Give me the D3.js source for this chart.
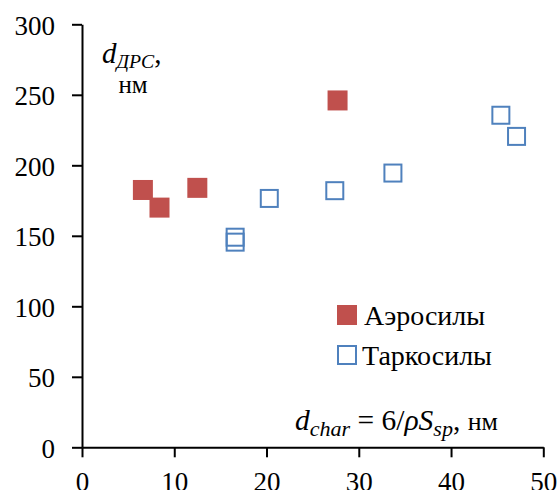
<!DOCTYPE html>
<html>
<head>
<meta charset="utf-8">
<script src="https://cdn.jsdelivr.net/npm/d3@7"></script>
<style>
html,body{margin:0;padding:0;background:#fff;}
svg text{font-family:"Liberation Serif","Times New Roman","DejaVu Serif",serif;fill:#000;}
</style>
</head>
<body>
<div id="chart"></div>
<script>
// Data
const aerosilX = [6.6, 8.4, 12.5, 27.7];
const aerosilY = [182.5, 170, 184, 246];
const tarkosilX = [16.6, 16.6, 20.3, 27.4, 33.7, 45.4, 47.1];
const tarkosilY = [149, 145.5, 176.5, 182, 194.5, 235.5, 220.5];
const xTicks = [0, 10, 20, 30, 40, 50];
const yTicks = [0, 50, 100, 150, 200, 250, 300];
const seriesNames = ["Аэросилы", "Таркосилы"];

(function(){
const W = 559, H = 490;
const mLeft = 82, mRight = 543.3, mTop = 24.3, mBottom = 447.3;
const red = "#C0504D", blue = "#4F81BD";
const fs = 27;
const FF = "'Liberation Serif', 'Times New Roman', 'DejaVu Serif', serif";

const svg = d3.select("#chart").append("svg").attr("width", W).attr("height", H)
  .attr("font-family", FF);

const x = d3.scaleLinear().domain([0, 50]).range([mLeft, mRight]);
const y = d3.scaleLinear().domain([0, 300]).range([mBottom, mTop]);

const yAxis = svg.append("g").attr("transform", `translate(${mLeft},0)`)
  .call(d3.axisLeft(y).tickValues(yTicks).tickSize(10).tickSizeOuter(0).tickPadding(17));
const xAxis = svg.append("g").attr("transform", `translate(0,${mBottom})`)
  .call(d3.axisBottom(x).tickValues(xTicks).tickSize(10).tickSizeOuter(0).tickPadding(15));

[xAxis, yAxis].forEach(g => {
  g.attr("font-family", FF).attr("font-size", fs);
  g.selectAll("path.domain").attr("stroke", "#000").attr("stroke-width", 2);
  g.selectAll(".tick line").attr("stroke", "#000").attr("stroke-width", 2);
  g.selectAll("text").attr("font-size", fs).attr("font-family", FF).attr("fill", "#000");
});
yAxis.selectAll("text").attr("dy", "0.36em");

const sq = 20;
svg.append("g").selectAll("rect").data(aerosilX).join("rect")
  .attr("x", (d) => x(d) - sq/2)
  .attr("y", (d, i) => y(aerosilY[i]) - sq/2)
  .attr("width", sq).attr("height", sq)
  .attr("fill", red);

const sq2 = 17;
svg.append("g").selectAll("rect").data(tarkosilX).join("rect")
  .attr("x", (d) => x(d) - sq2/2)
  .attr("y", (d, i) => y(tarkosilY[i]) - sq2/2)
  .attr("width", sq2).attr("height", sq2)
  .attr("fill", "none").attr("stroke", blue).attr("stroke-width", 2);

// Legend
const lfs = 28;
const lg = svg.append("g");
lg.append("rect").attr("x", 337).attr("y", 305).attr("width", 20).attr("height", 20).attr("fill", red);
lg.append("rect").attr("x", 338).attr("y", 346).attr("width", 18).attr("height", 18)
  .attr("fill", "#fff").attr("stroke", blue).attr("stroke-width", 2);
lg.append("text").attr("x", 364).attr("y", 325).attr("font-size", lfs).text(seriesNames[0]);
lg.append("text").attr("x", 362).attr("y", 365).attr("font-size", lfs).text(seriesNames[1]);

// Y axis title
const tfs = 29;
const yt = svg.append("text").attr("x", 102).attr("y", 63).attr("font-size", tfs);
yt.append("tspan").attr("font-style", "italic").text("d");
yt.append("tspan").attr("font-style", "italic").attr("font-size", tfs*0.68).attr("dy", 5).text("ДРС");
yt.append("tspan").attr("dy", -5).text(",");
svg.append("text").attr("x", 133).attr("y", 93).attr("font-size", 25).attr("text-anchor", "middle").text("нм");

// X axis title
const xt = svg.append("text").attr("x", 295).attr("y", 430).attr("font-size", tfs)
  .attr("textLength", 203).attr("lengthAdjust", "spacingAndGlyphs");
xt.append("tspan").attr("font-style", "italic").text("d");
xt.append("tspan").attr("font-style", "italic").attr("font-size", tfs*0.75).attr("dy", 6).text("char");
xt.append("tspan").attr("dy", -6).text(" = 6/");
xt.append("tspan").attr("font-style", "italic").text("ρS");
xt.append("tspan").attr("font-style", "italic").attr("font-size", tfs*0.75).attr("dy", 6).text("sp");
xt.append("tspan").attr("dy", -6).text(", ");
xt.append("tspan").attr("font-size", tfs*0.88).text("нм");
})();
</script>
</body>
</html>
